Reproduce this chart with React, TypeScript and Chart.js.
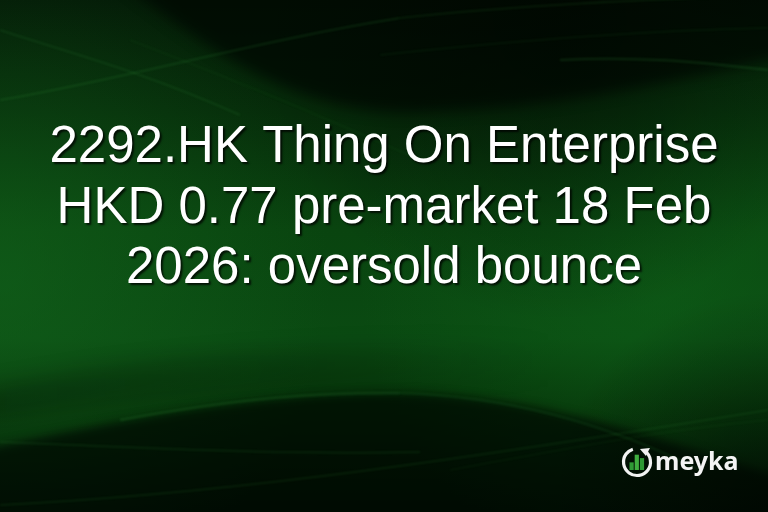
import { useEffect, useRef } from 'react';
import { Chart, registerables } from 'chart.js';

Chart.register(...registerables);

// Headline text, one entry per line
const titleLines = [
  '2292.HK Thing On Enterprise',
  'HKD 0.77 pre-market 18 Feb',
  '2026: oversold bounce',
];
const brandName = 'meyka';
// Relative heights of the three bars inside the logo ring
const logoBars = [0.45, 0.9, 0.7];

const backgroundPlugin = {
  id: 'greenBackground',
  beforeDraw(chart: Chart) {
    const { ctx, width: w, height: h } = chart;
    ctx.save();

    // base vertical gradient
    const base = ctx.createLinearGradient(0, 0, 0, h);
    base.addColorStop(0, '#041a07');
    base.addColorStop(0.22, '#062c0a');
    base.addColorStop(0.45, '#09440f');
    base.addColorStop(0.66, '#0a4a12');
    base.addColorStop(0.8, '#063209');
    base.addColorStop(1, '#021206');
    ctx.fillStyle = base;
    ctx.fillRect(0, 0, w, h);

    // green glow left and right
    const glowL = ctx.createRadialGradient(0, 280, 10, 0, 280, 330);
    glowL.addColorStop(0, 'rgba(20,105,30,0.5)');
    glowL.addColorStop(1, 'rgba(20,105,30,0)');
    ctx.fillStyle = glowL;
    ctx.fillRect(0, 0, w, h);

    const glowR = ctx.createRadialGradient(660, 280, 10, 660, 280, 300);
    glowR.addColorStop(0, 'rgba(15,100,25,0.5)');
    glowR.addColorStop(1, 'rgba(15,100,25,0)');
    ctx.fillStyle = glowR;
    ctx.fillRect(0, 0, w, h);

    // soft dark swoosh top right
    ctx.filter = 'blur(7px)';
    ctx.beginPath();
    ctx.moveTo(120, -20);
    ctx.bezierCurveTo(220, 60, 300, 110, 400, 112);
    ctx.bezierCurveTo(520, 112, 640, 90, 790, 55);
    ctx.lineTo(790, -20);
    ctx.closePath();
    ctx.fillStyle = 'rgba(0,8,2,0.75)';
    ctx.fill();

    // darker corner top right
    ctx.filter = 'none';
    const dark = ctx.createRadialGradient(560, 20, 20, 560, 20, 300);
    dark.addColorStop(0, 'rgba(0,6,1,0.6)');
    dark.addColorStop(1, 'rgba(0,6,1,0)');
    ctx.fillStyle = dark;
    ctx.fillRect(0, 0, w, h);

    // soft dark band lower left, fading out to the right
    const bandFade = ctx.createLinearGradient(0, 0, 560, 0);
    bandFade.addColorStop(0, 'rgba(0,10,2,0.28)');
    bandFade.addColorStop(1, 'rgba(0,10,2,0)');
    ctx.filter = 'blur(10px)';
    ctx.beginPath();
    ctx.moveTo(-20, 390);
    ctx.bezierCurveTo(120, 360, 300, 340, 580, 340);
    ctx.lineTo(580, 380);
    ctx.bezierCurveTo(300, 380, 120, 400, -20, 420);
    ctx.closePath();
    ctx.fillStyle = bandFade;
    ctx.fill();

    // dark swoosh along the bottom
    ctx.filter = 'blur(5px)';
    ctx.beginPath();
    ctx.moveTo(-20, 450);
    ctx.bezierCurveTo(120, 420, 260, 392, 400, 393);
    ctx.bezierCurveTo(540, 395, 660, 440, 790, 480);
    ctx.lineTo(790, 530);
    ctx.lineTo(-20, 530);
    ctx.closePath();
    ctx.fillStyle = 'rgba(0,8,2,0.72)';
    ctx.fill();

    const darkBR = ctx.createRadialGradient(768, 512, 10, 768, 512, 220);
    darkBR.addColorStop(0, 'rgba(0,6,1,0.6)');
    darkBR.addColorStop(1, 'rgba(0,6,1,0)');
    ctx.filter = 'none';
    ctx.fillStyle = darkBR;
    ctx.fillRect(0, 0, w, h);

    // thin light streaks
    ctx.filter = 'blur(0.8px)';
    const streak = (pts: number[], a: number, lw = 1.6) => {
      ctx.beginPath();
      ctx.moveTo(pts[0], pts[1]);
      ctx.bezierCurveTo(pts[2], pts[3], pts[4], pts[5], pts[6], pts[7]);
      ctx.strokeStyle = `rgba(60,170,70,${a})`;
      ctx.lineWidth = lw;
      ctx.stroke();
    };
    // top
    streak([0, 30, 60, 50, 140, 70, 240, 115], 0.16);
    streak([0, 100, 120, 80, 260, 40, 400, 18], 0.2);
    streak([400, 18, 520, 5, 640, 0, 768, -5], 0.15);
    streak([380, 55, 520, 40, 660, 30, 768, 28], 0.1);
    streak([560, 60, 650, 55, 720, 65, 768, 70], 0.18, 2);
    streak([130, 40, 260, 90, 330, 120, 420, 160], 0.08);
    // bottom
    streak([120, 420, 240, 398, 320, 392, 400, 393], 0.18, 2.5);
    streak([400, 393, 500, 396, 600, 420, 700, 470], 0.14, 2);
    streak([0, 442, 150, 448, 280, 455, 420, 452], 0.16);
    streak([0, 505, 200, 495, 400, 470, 768, 410], 0.15);
    streak([450, 470, 560, 450, 660, 430, 768, 420], 0.08);

    ctx.filter = 'none';
    ctx.restore();
  },
  afterDraw(chart: Chart) {
    const { ctx, width: w } = chart;
    ctx.save();

    // headline
    ctx.font = '51px "Liberation Sans", Arial, sans-serif';
    ctx.textAlign = 'center';
    ctx.textBaseline = 'alphabetic';
    ctx.fillStyle = '#ffffff';
    ctx.shadowColor = 'rgba(0,0,0,0.75)';
    ctx.shadowOffsetX = 2;
    ctx.shadowOffsetY = 2;
    ctx.shadowBlur = 2;
    titleLines.forEach((line, i) => {
      ctx.fillText(line, w / 2, 162 + i * 60.5);
    });
    ctx.shadowColor = 'rgba(0,0,0,0)';

    // logo ring with arrow gap
    const cx = 637;
    const cy = 462;
    const r = 13.5;
    ctx.beginPath();
    ctx.arc(cx, cy, r, -Math.PI * 0.3, -Math.PI * 0.6, false);
    ctx.strokeStyle = '#f2f2f2';
    ctx.lineWidth = 3.2;
    ctx.stroke();
    // arrow head at the gap
    const ax = cx + r * Math.cos(-Math.PI * 0.3);
    const ay = cy + r * Math.sin(-Math.PI * 0.3);
    ctx.beginPath();
    ctx.moveTo(ax - 5, ay - 2);
    ctx.lineTo(ax + 5, ay - 3);
    ctx.lineTo(ax + 1, ay + 5);
    ctx.closePath();
    ctx.fillStyle = '#f2f2f2';
    ctx.fill();

    // bars inside ring
    const barW = 4.2;
    const bottom = cy + 8;
    const maxH = 17;
    logoBars.forEach((v, i) => {
      const x = cx - 7.5 + i * 5.2;
      ctx.fillStyle = i === 1 ? '#3fae3f' : '#2f9a35';
      ctx.fillRect(x, bottom - v * maxH, barW, v * maxH);
    });

    // brand name
    ctx.font = 'bold 25px "Noto Sans", "Open Sans", sans-serif';
    ctx.textAlign = 'left';
    ctx.fillStyle = '#f4f4f4';
    ctx.fillText(brandName, 655, 470);

    ctx.restore();
  },
};

export default function App() {
  const canvasRef = useRef<HTMLCanvasElement>(null);
  const chartRef = useRef<Chart | null>(null);

  useEffect(() => {
    document.body.style.margin = '0';
    if (!canvasRef.current) return;
    if (chartRef.current) chartRef.current.destroy();

    const ctx = canvasRef.current.getContext('2d');
    if (ctx) {
      chartRef.current = new Chart(ctx, {
        type: 'bar',
        data: { labels: [], datasets: [] },
        options: {
          animation: false,
          responsive: true,
          maintainAspectRatio: false,
          layout: { padding: 0 },
          plugins: {
            legend: { display: false },
            title: { display: false },
            tooltip: { enabled: false },
          },
          scales: {
            x: { display: false },
            y: { display: false },
          },
        },
        plugins: [backgroundPlugin],
      });
    }

    return () => {
      if (chartRef.current) {
        chartRef.current.destroy();
        chartRef.current = null;
      }
    };
  }, []);

  return (
    <div style={{ position: 'relative', width: 768, height: 512 }}>
      <canvas ref={canvasRef}></canvas>
    </div>
  );
}
